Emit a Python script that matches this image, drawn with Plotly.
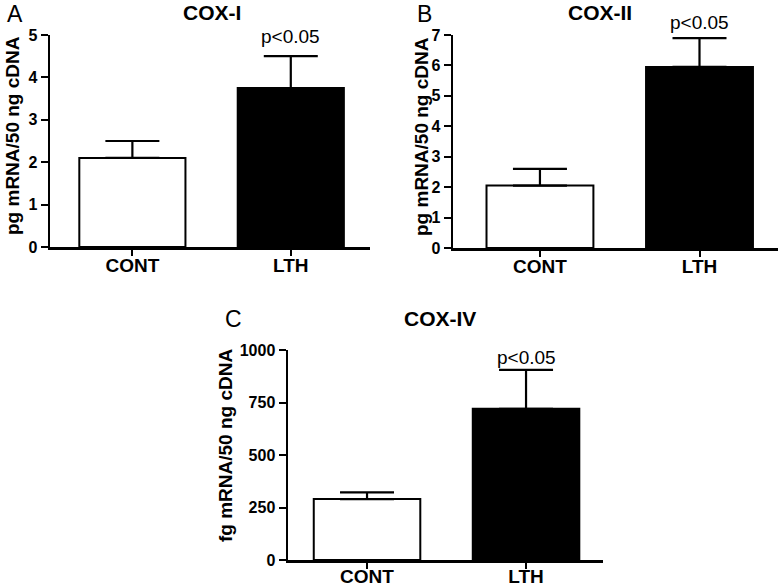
import plotly.graph_objects as go

categories = ["CONT", "LTH"]

cox1_values = [2.1, 3.75]
cox1_errors = [0.4, 0.75]

cox2_values = [2.05, 5.95]
cox2_errors = [0.55, 0.95]

cox4_values = [290, 720]
cox4_errors = [32, 185]

bar_fills = ["white", "black"]

FONT = "Liberation Sans, Arial, sans-serif"

panels = [
    dict(values=cox1_values, errors=cox1_errors, xref="x", yref="y",
         xdom=[50/780, 370/780], ydom=[1-247/585, 1-35/585],
         xrange=[-0.52, 1.5], yrange=[0, 5], dtick=1, pshift=7, standoff=-6),
    dict(values=cox2_values, errors=cox2_errors, xref="x2", yref="y2",
         xdom=[453/780, 778/780], ydom=[1-248/585, 1-35/585],
         xrange=[-0.545, 1.492], yrange=[0, 7], dtick=1, pshift=3, standoff=-6),
    dict(values=cox4_values, errors=cox4_errors, xref="x3", yref="y3",
         xdom=[288/780, 603/780], ydom=[1-560/585, 1-350/585],
         xrange=[-0.497, 1.484], yrange=[0, 1000], dtick=250, pshift=0, standoff=-8),
]

fig = go.Figure()
layout = dict(
    width=780, height=585,
    margin=dict(l=0, r=0, t=0, b=0, pad=0, autoexpand=False),
    paper_bgcolor="white", plot_bgcolor="white",
    showlegend=False,
    bargap=0,
    font=dict(family=FONT, color="black"),
)

annotations = []
for i, p in enumerate(panels):
    fig.add_trace(go.Bar(
        x=categories, y=p["values"],
        width=0.67,
        marker=dict(color=bar_fills, line=dict(color="black", width=2)),
        error_y=dict(type="data", symmetric=False, array=p["errors"],
                     arrayminus=[0, 0], color="black", thickness=2.2, width=27),
        xaxis=p["xref"], yaxis=p["yref"], hoverinfo="skip",
    ))
    suffix = "" if i == 0 else str(i + 1)
    layout["xaxis" + suffix] = dict(
        domain=p["xdom"], anchor=p["yref"], range=p["xrange"],
        type="category", automargin=False,
        showline=True, linecolor="black", linewidth=2.5,
        ticks="outside", ticklen=6, tickwidth=2, tickcolor="black",
        ticklabelstandoff=p["standoff"],
        tickfont=dict(family=FONT, size=19, weight="bold", color="black"),
        showgrid=False, zeroline=False, fixedrange=True,
    )
    layout["yaxis" + suffix] = dict(
        domain=p["ydom"], anchor=p["xref"], range=p["yrange"],
        dtick=p["dtick"], tick0=0, automargin=False,
        showline=True, linecolor="black", linewidth=2.5,
        ticks="outside", ticklen=7, tickwidth=2, tickcolor="black",
        tickfont=dict(family=FONT, size=16, weight="bold", color="black"),
        showgrid=False, zeroline=False, fixedrange=True,
    )
    annotations.append(dict(
        x="LTH", y=p["values"][1] + p["errors"][1], xref=p["xref"], yref=p["yref"],
        text="p<0.05", showarrow=False, yanchor="bottom", xanchor="center",
        yshift=p["pshift"], font=dict(family=FONT, size=19, color="black"),
    ))

titles = [("COX-I", 212, 12), ("COX-II", 600, 12.5), ("COX-IV", 440, 319)]
for t, x, y in titles:
    annotations.append(dict(x=x/780, y=1-y/585, xref="paper", yref="paper",
                            text=t, showarrow=False, xanchor="center", yanchor="middle",
                            font=dict(family=FONT, size=21, weight="bold", color="black")))

letters = [("A", 15, 14), ("B", 425, 14), ("C", 233, 319)]
for t, x, y in letters:
    annotations.append(dict(x=x/780, y=1-y/585, xref="paper", yref="paper",
                            text=t, showarrow=False, xanchor="center", yanchor="middle",
                            font=dict(family=FONT, size=23, color="black")))

ytitles = [("pg mRNA/50 ng cDNA", 12, 136), ("pg mRNA/50 ng cDNA", 421, 137),
           ("fg mRNA/50 ng cDNA", 225, 445)]
for t, x, y in ytitles:
    annotations.append(dict(x=x/780, y=1-y/585, xref="paper", yref="paper",
                            text=t, showarrow=False, textangle=-90,
                            xanchor="center", yanchor="middle",
                            font=dict(family=FONT, size=19, weight="bold", color="black")))

layout["annotations"] = annotations
fig.update_layout(**layout)
fig.write_html(
    "out.html",
    config={"displayModeBar": False, "staticPlot": True},
    post_script="document.body.style.margin='0';document.body.style.overflow='hidden';",
)
